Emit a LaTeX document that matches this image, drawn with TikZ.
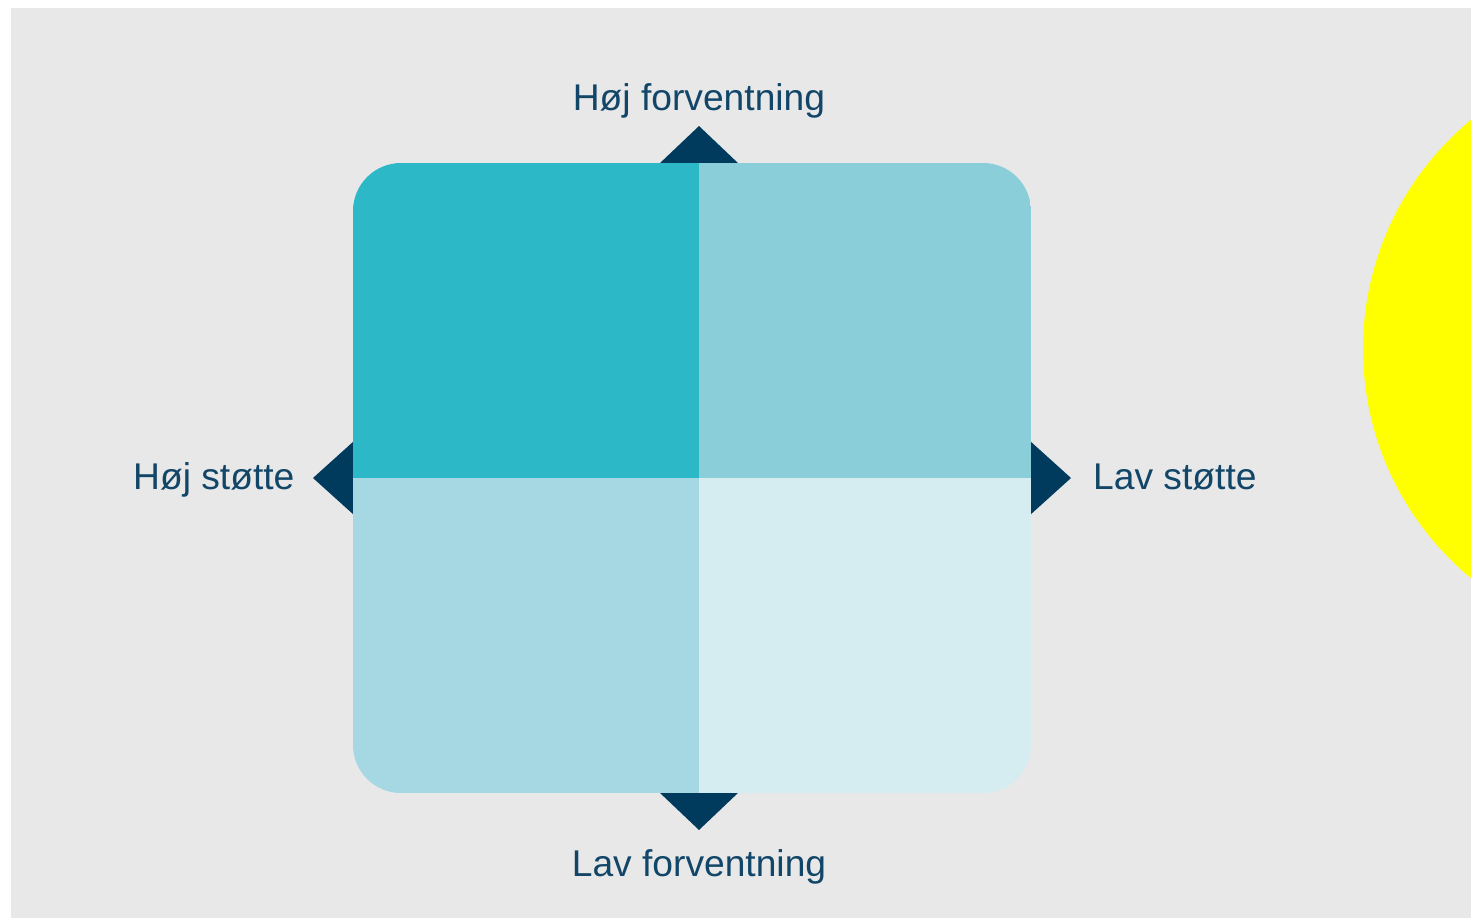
\documentclass[tikz,border=0pt]{standalone}
\usepackage{fontspec}
\setmainfont{Liberation Sans}
\definecolor{bgray}{HTML}{E8E8E8}
\definecolor{qtl}{HTML}{2DB8C8}
\definecolor{qtr}{HTML}{8ACED9}
\definecolor{qbl}{HTML}{A5D8E2}
\definecolor{qbr}{HTML}{D5ECF0}
\definecolor{navy}{HTML}{003A5C}
\definecolor{labtxt}{HTML}{124668}
\definecolor{sunny}{HTML}{FFFF00}
\tikzset{
  lab/.style={font=\fontsize{37.2}{40}\selectfont, text=labtxt, inner sep=0pt, anchor=base},
  tri/.style={fill=navy, draw=none},
}
\begin{document}
\begin{tikzpicture}[x=1pt,y=-1pt]
\useasboundingbox (0,0) rectangle (1471,918);
\fill[white] (0,0) rectangle (1471,918);
\fill[bgray] (11,8) rectangle (1471,918);
% yellow circle cut by the right edge
\begin{scope}
\clip (11,8) rectangle (1471,918);
\fill[sunny] (1660,349) circle[radius=297];
\end{scope}
% triangles
\fill[tri] (659,164) -- (699,126) -- (739,164) -- cycle;
\fill[tri] (659,792) -- (699,830) -- (739,792) -- cycle;
\fill[tri] (354,441) -- (313,478) -- (354,515) -- cycle;
\fill[tri] (1030,441) -- (1071,478) -- (1030,515) -- cycle;
% rounded square in four quadrants
\begin{scope}
\clip[rounded corners=48] (353,163) rectangle (1031,793);
\fill[qtl] (353,163) rectangle (699,478);
\fill[qtr] (699,163) rectangle (1031,478);
\fill[qbl] (353,478) rectangle (699,793);
\fill[qbr] (699,478) rectangle (1031,793);
\end{scope}
\node[lab] (top) at (699,110) {Høj forventning};
\node[lab] (bottom) at (699,876) {Lav forventning};
\node[lab, anchor=base west] (left) at (133,489) {Høj støtte};
\node[lab, anchor=base west] (right) at (1093,489) {Lav støtte};
\end{tikzpicture}
\end{document}
